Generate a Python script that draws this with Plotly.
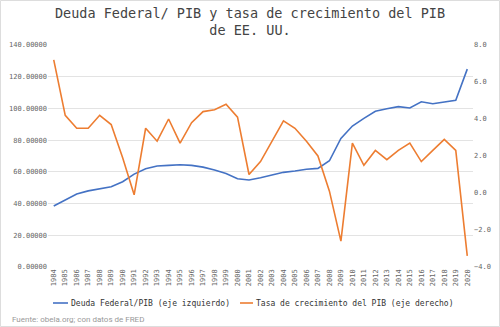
import plotly.graph_objects as go

years = [str(y) for y in range(1984, 2021)]
deuda_pib = [38.5, 42.2, 46.0, 48.0, 49.4, 50.6, 53.8, 58.6, 62.0, 63.7, 64.1, 64.5, 64.1, 63.0,
             61.2, 59.0, 55.7, 54.9, 56.3, 57.8, 59.7, 60.5, 61.6, 62.2, 67.0, 81.1, 88.9, 93.7,
             98.2, 99.8, 101.1, 100.3, 104.2, 103.0, 104.0, 105.1, 124.8]
crecimiento = [7.2, 4.2, 3.5, 3.5, 4.2, 3.7, 1.9, -0.1, 3.5, 2.8, 4.0, 2.7, 3.8, 4.4, 4.5, 4.8,
               4.1, 1.0, 1.7, 2.8, 3.9, 3.5, 2.8, 2.0, 0.1, -2.6, 2.7, 1.5, 2.3, 1.8, 2.3, 2.7,
               1.7, 2.3, 2.9, 2.3, -3.4]
left_ticks = [0, 20, 40, 60, 80, 100, 120, 140]
right_ticks = [-4, -2, 0, 2, 4, 6, 8]
series_names = ["Deuda Federal/PIB (eje izquierdo)", "Tasa de crecimiento del PIB (eje derecho)"]
colors = ["#4472C4", "#ED7D31"]

mono = "DejaVu Sans Mono"
fig = go.Figure()
fig.add_trace(go.Scatter(x=years, y=deuda_pib, mode="lines", name=series_names[0],
                         line=dict(color=colors[0], width=1.6)))
fig.add_trace(go.Scatter(x=years, y=crecimiento, mode="lines", name=series_names[1],
                         line=dict(color=colors[1], width=1.6), yaxis="y2"))

W, H = 500, 327
L, R, T, B = 48, 27, 45, 60
pw, ph = W - L - R, H - T - B

def px(x):
    return (x - L) / pw

def py(y):
    return (H - B - y) / ph

fig.update_layout(
    width=W, height=H, margin=dict(l=L, r=R, t=T, b=B, autoexpand=False),
    paper_bgcolor="white", plot_bgcolor="white",
    title=dict(text="Deuda Federal/ PIB y tasa de crecimiento del PIB<br>de EE. UU.",
               x=0.5, xanchor="center", y=0.946, yanchor="top",
               font=dict(family=mono, size=13.5, color="#444444")),
    xaxis=dict(type="category", tickangle=-90, tickfont=dict(family=mono, size=7, color="#666666"),
               showgrid=False, showline=False, ticks="", range=[-0.5, 36.5], automargin=False),
    yaxis=dict(range=[0, 140], tickvals=left_ticks, tickformat=".5f",
               tickfont=dict(family=mono, size=7, color="#666666"), automargin=False,
               gridcolor="#e3e3e3", gridwidth=1, zeroline=False, showline=False),
    yaxis2=dict(range=[-4, 8], tickvals=right_ticks, tickformat=".1f", overlaying="y", side="right",
                tickfont=dict(family=mono, size=7, color="#666666"), automargin=False,
                showgrid=False, zeroline=False, showline=False),
    showlegend=False,
)

# legend drawn manually: line sample + label
legend_pos = [(53, 68), (240, 253)]
for (x0, x1), name, col in zip(legend_pos, series_names, colors):
    fig.add_shape(type="line", xref="paper", yref="paper", x0=px(x0), x1=px(x1), y0=py(303), y1=py(303),
                  line=dict(color=col, width=1.6))
    fig.add_annotation(text=name, xref="paper", yref="paper", x=px(x1 + 1), y=py(303),
                       xanchor="left", yanchor="middle", showarrow=False,
                       font=dict(family=mono, size=8, color="#333333"))

fig.add_annotation(text="Fuente: obela.org; con datos de FRED", xref="paper", yref="paper",
                   x=px(10), y=py(319), xanchor="left", yanchor="middle",
                   showarrow=False, font=dict(family="Roboto", size=8, color="#999999"))
fig.add_shape(type="rect", xref="paper", yref="paper",
              x0=px(0.5), x1=px(W - 0.5), y0=py(H - 0.5), y1=py(0.5),
              line=dict(color="#dddddd", width=1), fillcolor="rgba(0,0,0,0)", layer="below")
fig.write_html("out.html")
